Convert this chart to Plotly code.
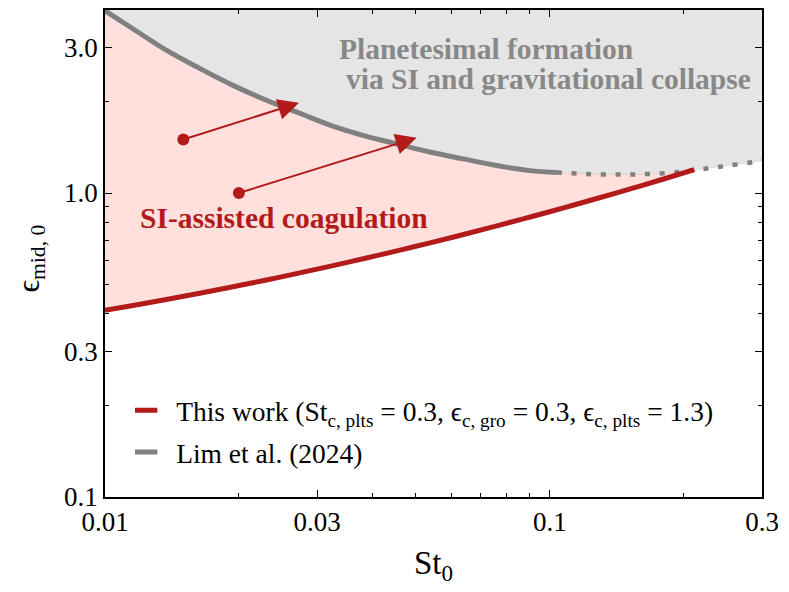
import math
import plotly.graph_objects as go

# Lim et al. (2024) threshold, solid part
lim_st = [0.0100, 0.01155, 0.01373, 0.01632, 0.0194, 0.02306, 0.02741, 0.03252,
          0.03873, 0.04603, 0.05377, 0.06391, 0.07598, 0.0903, 0.1037]
lim_eps = [3.98, 3.47, 2.95, 2.57, 2.26, 2.02, 1.83, 1.66,
           1.536, 1.442, 1.364, 1.295, 1.231, 1.185, 1.168]

# extrapolated (dotted) part
lim_st_ext = [0.1037, 0.119, 0.139, 0.161, 0.1866, 0.216, 0.2524, 0.2949, 0.3]
lim_eps_ext = [1.168, 1.156, 1.150, 1.153, 1.165, 1.194, 1.231, 1.272, 1.28]

# this work: lower boundary of SI-assisted coagulation
this_st = [0.0100, 0.01156, 0.01374, 0.01633, 0.01941, 0.02307, 0.02742, 0.03258,
           0.03873, 0.04603, 0.05383, 0.06397, 0.07603, 0.09036, 0.1074, 0.1276,
           0.1517, 0.1803, 0.2113]
this_eps = [0.4115, 0.4267, 0.4465, 0.4682, 0.4918, 0.5176, 0.5461, 0.5771,
            0.6111, 0.6486, 0.6857, 0.7302, 0.7794, 0.8337, 0.8934, 0.9592,
            1.032, 1.112, 1.194]

# growth arrows (start -> end)
arrow_start_st = [0.015, 0.020]
arrow_start_eps = [1.5, 1.0]
arrow_end_st = [0.0273, 0.0502]
arrow_end_eps = [1.98, 1.52]

x_ticks = [0.01, 0.03, 0.1, 0.3]
x_ticktext = ["0.01", "0.03", "0.1", "0.3"]
x_minor = [0.02, 0.04, 0.05, 0.06, 0.07, 0.08, 0.09, 0.2]
y_ticks = [0.1, 0.3, 1.0, 3.0]
y_ticktext = ["0.1", "0.3", "1.0", "3.0"]
y_minor = [0.2, 0.4, 0.5, 0.6, 0.7, 0.8, 0.9, 2.0]

x_lo, x_hi = 0.01, 0.3
y_lo, y_hi = 0.1, 4.0

RED = "#b31b1b"
GRAY = "#808080"
FONT = "Liberation Serif"

gray_st = lim_st + lim_st_ext[1:]
gray_eps = lim_eps + lim_eps_ext[1:]

fig = go.Figure()

# gray region above the Lim et al. curve
fig.add_trace(go.Scatter(
    x=gray_st + [x_hi, x_lo], y=gray_eps + [y_hi, y_hi],
    fill="toself", fillcolor="#e5e5e5", mode="lines",
    line=dict(width=0.8, color="#d9d9d9", shape="spline"),
    showlegend=False, hoverinfo="skip"))

# pink region between the two curves
back = [(s, e) for s, e in zip(gray_st, gray_eps) if s < this_st[-1]][::-1]
fig.add_trace(go.Scatter(
    x=this_st + [p[0] for p in back], y=this_eps + [p[1] for p in back],
    fill="toself", fillcolor="#ffe0dd", mode="lines",
    line=dict(width=0.8, color="#f3c6c0", shape="spline"),
    showlegend=False, hoverinfo="skip"))

fig.add_trace(go.Scatter(x=lim_st, y=lim_eps, mode="lines",
                         line=dict(color=GRAY, width=5, shape="spline"),
                         showlegend=False))
fig.add_trace(go.Scatter(x=lim_st_ext, y=lim_eps_ext, mode="lines",
                         line=dict(color=GRAY, width=4.5, dash="5px,9.7px",
                                   shape="spline"),
                         showlegend=False))
fig.add_trace(go.Scatter(x=this_st, y=this_eps, mode="lines",
                         line=dict(color=RED, width=5, shape="spline"),
                         showlegend=False))

# arrow start dots
fig.add_trace(go.Scatter(x=arrow_start_st, y=arrow_start_eps, mode="markers",
                         marker=dict(color=RED, size=12), showlegend=False))

for s0, e0, s1, e1 in zip(arrow_start_st, arrow_start_eps, arrow_end_st, arrow_end_eps):
    fig.add_annotation(x=math.log10(s1), y=math.log10(e1), xref="x", yref="y",
                       ax=math.log10(s0), ay=math.log10(e0), axref="x", ayref="y",
                       showarrow=True, arrowhead=2, arrowsize=2.1, arrowwidth=2,
                       arrowcolor=RED, text="")

# legend entries
fig.add_trace(go.Scatter(
    x=[None], y=[None], mode="markers", legendgroup="a",
    marker=dict(symbol="line-ew", size=16, line=dict(width=5, color=RED)),
    name="This work (St<sub>c, plts</sub> = 0.3, ϵ<sub>c, gro</sub> = 0.3, "
         "ϵ<sub>c, plts</sub> = 1.3)"))
fig.add_trace(go.Scatter(
    x=[None], y=[None], mode="markers", legendgroup="b",
    marker=dict(symbol="line-ew", size=16, line=dict(width=5, color=GRAY)),
    name="Lim et al. (2024)"))

fig.add_annotation(x=0.353, y=0.920, xref="paper", yref="paper",
                   xanchor="left", yanchor="middle", showarrow=False,
                   text="<b>Planetesimal formation</b>",
                   font=dict(family=FONT, size=29.5, color="#888888"))
fig.add_annotation(x=0.364, y=0.859, xref="paper", yref="paper",
                   xanchor="left", yanchor="middle", showarrow=False,
                   text="<b>via SI and gravitational collapse</b>",
                   font=dict(family=FONT, size=29.5, color="#888888"))
fig.add_annotation(x=0.2725, y=0.573, xref="paper", yref="paper",
                   xanchor="center", yanchor="middle", showarrow=False,
                   text="<b>SI-assisted coagulation</b>",
                   font=dict(family=FONT, size=29.5, color=RED))

# y axis title, placed as a rotated annotation
fig.add_annotation(x=-0.113, y=0.489, xref="paper", yref="paper",
                   xanchor="center", yanchor="middle", showarrow=False,
                   textangle=-90, text="ϵ<sub>mid, 0</sub>",
                   font=dict(family=FONT, size=31, color="black"))

axis_common = dict(type="log", showgrid=False, zeroline=False,
                   showline=True, linecolor="black", linewidth=1.5, mirror="ticks",
                   ticks="inside", ticklen=7, tickwidth=1.3, tickcolor="black",
                   tickfont=dict(family=FONT, size=27, color="black"))

fig.update_xaxes(range=[math.log10(x_lo), math.log10(x_hi)],
                 tickvals=x_ticks, ticktext=x_ticktext,
                 minor=dict(tickvals=x_minor, ticks="inside", ticklen=4,
                            tickwidth=1, tickcolor="black"),
                 title=dict(text="St<sub>0</sub>", font=dict(family=FONT, size=33),
                            standoff=15),
                 **axis_common)
fig.update_yaxes(range=[math.log10(y_lo), math.log10(y_hi)],
                 tickvals=y_ticks, ticktext=y_ticktext,
                 minor=dict(tickvals=y_minor, ticks="inside", ticklen=4,
                            tickwidth=1, tickcolor="black"),
                 **axis_common)

# page body adds an 8px offset, so the figure is sized to the remaining window
fig.update_layout(
    width=781, height=584,
    margin=dict(l=97, r=27, t=0, b=95),
    paper_bgcolor="white", plot_bgcolor="white",
    font=dict(family=FONT, color="black"),
    legend=dict(x=0.017, y=0.228, xanchor="left", yanchor="top",
                bgcolor="rgba(0,0,0,0)", itemwidth=50, tracegroupgap=3,
                traceorder="grouped",
                font=dict(family=FONT, size=27.5, color="black")),
)

fig.write_html("out.html")
